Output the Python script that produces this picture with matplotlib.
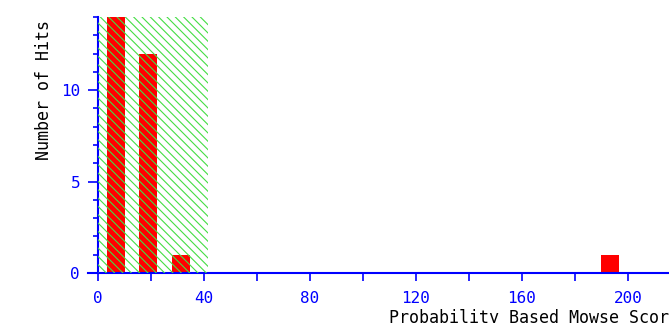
import numpy as np
import matplotlib.pyplot as plt
from matplotlib.ticker import MultipleLocator

# Histogram of Mowse scores
bin_centers = [6.8, 18.7, 31.3, 193.3]
hits = [14, 12, 1, 1]
bar_width = 6.8
threshold = 41.5   # shaded "significant" region upper bound

plt.rcParams['hatch.linewidth'] = 0.8

fig = plt.figure(figsize=(6.69, 3.23), dpi=100)
ax = fig.add_axes([88/669, 1 - 273/323, 1 - 88/669, 256/323])

ax.bar(bin_centers, hits, width=bar_width, color='#ff0000', zorder=2)
ax.axvspan(0, threshold, ymin=0, ymax=1, facecolor='none', edgecolor='#44dd44',
           hatch='\\\\\\\\', linewidth=0, zorder=3)

ax.set_xlim(-3.8, 215.5)
ax.set_ylim(0, 14)

blue = '#0000ff'
for s in ['top', 'right']:
    ax.spines[s].set_visible(False)
ax.spines['left'].set_position(('data', 0))
ax.spines['left'].set_color(blue)
ax.spines['bottom'].set_color(blue)
ax.spines['left'].set_linewidth(1.5)
ax.spines['bottom'].set_linewidth(1.5)

ax.xaxis.set_major_locator(MultipleLocator(40))
ax.xaxis.set_minor_locator(MultipleLocator(20))
ax.yaxis.set_major_locator(MultipleLocator(5))
ax.yaxis.set_minor_locator(MultipleLocator(1))
ax.tick_params(axis='both', which='both', color=blue, labelcolor=blue,
               labelsize=11.5, width=1.2)
ax.tick_params(axis='x', which='both', length=6, pad=7)
ax.tick_params(axis='y', which='major', length=7, pad=6)
ax.tick_params(axis='y', which='minor', length=3.5)
for lab in ax.get_xticklabels() + ax.get_yticklabels():
    lab.set_family('DejaVu Sans Mono')

ax.set_xlabel('Probability Based Mowse Score', family='DejaVu Sans Mono',
              fontsize=12)
ax.xaxis.set_label_coords((534 - 88) / (669 - 88), (273 - 309) / 256)
ax.set_ylabel('Number of Hits', family='DejaVu Sans Mono', fontsize=12)
ax.yaxis.set_label_coords((53 - 88) / (669 - 88), (273 - 90) / 256)

fig.savefig('out.png', dpi=100)
